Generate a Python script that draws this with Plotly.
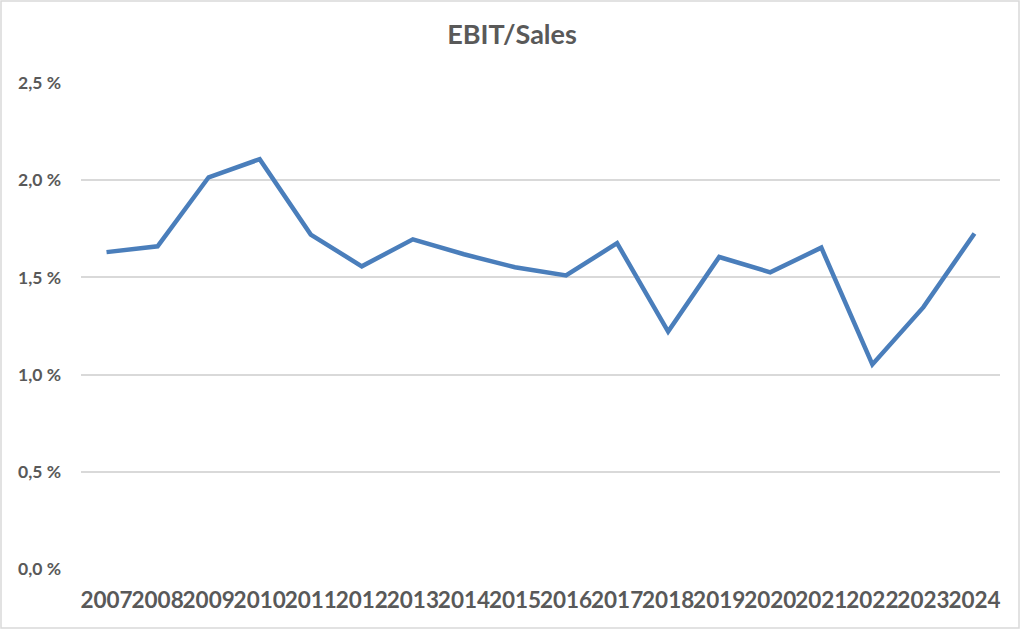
import plotly.graph_objects as go

# EBIT/Sales in percent
years = [str(y) for y in range(2007, 2025)]
ebit_sales = [1.63, 1.66, 2.015, 2.108, 1.72, 1.557, 1.696, 1.619, 1.552,
              1.51, 1.676, 1.221, 1.605, 1.526, 1.653, 1.052, 1.347, 1.726]
y_ticks = [0.0, 0.5, 1.0, 1.5, 2.0, 2.5]
y_labels = ["0,0 %", "0,5 %", "1,0 %", "1,5 %", "2,0 %", "2,5 %"]

FONT = "Lato"
GREY = "#595959"
GRID = "#d9d9d9"
BLUE = "#4a7ebb"

L, R, T, B = 81, 24, 83, 61
W, H = 1024, 630
pw, ph = W - L - R, H - T - B

fig = go.Figure()
fig.add_trace(go.Scatter(x=years, y=ebit_sales, mode="lines",
                         line=dict(color=BLUE, width=4.5), hoverinfo="x+y"))

fig.update_layout(
    width=W, height=H,
    margin=dict(l=L, r=R, t=T, b=B),
    paper_bgcolor="white", plot_bgcolor="white",
    showlegend=False,
    font=dict(family=FONT, color=GREY),
    title=dict(text="<b>EBIT/Sales</b>", x=0.5, xanchor="center",
               y=1 - 35 / H, yanchor="middle",
               font=dict(family=FONT, size=27, color=GREY)),
)
fig.update_xaxes(type="category", range=[-0.5, len(years) - 0.5], tickangle=0,
                 showgrid=False, showline=False, ticks="", ticklabelstandoff=15,
                 tickfont=dict(family=FONT, size=22.5, color=GREY, weight="bold"))
fig.update_yaxes(range=[0, 2.5], tickvals=y_ticks, ticktext=y_labels,
                 showgrid=True, gridcolor=GRID, gridwidth=1.5, zeroline=False,
                 showline=False, ticks="", ticklabelstandoff=19,
                 tickfont=dict(family=FONT, size=17.5, color=GREY, weight="bold"))

# light outer chart border like the Excel chart area
fig.add_shape(type="rect", xref="paper", yref="paper",
              x0=(1 - L) / pw, x1=(1019 - L) / pw,
              y0=(H - B - 628) / ph, y1=(H - B - 1) / ph,
              line=dict(color=GRID, width=1.5), fillcolor="rgba(0,0,0,0)", layer="below")

fig.write_html("out.html", config={"displayModeBar": False},
               post_script="document.body.style.margin='0';")
